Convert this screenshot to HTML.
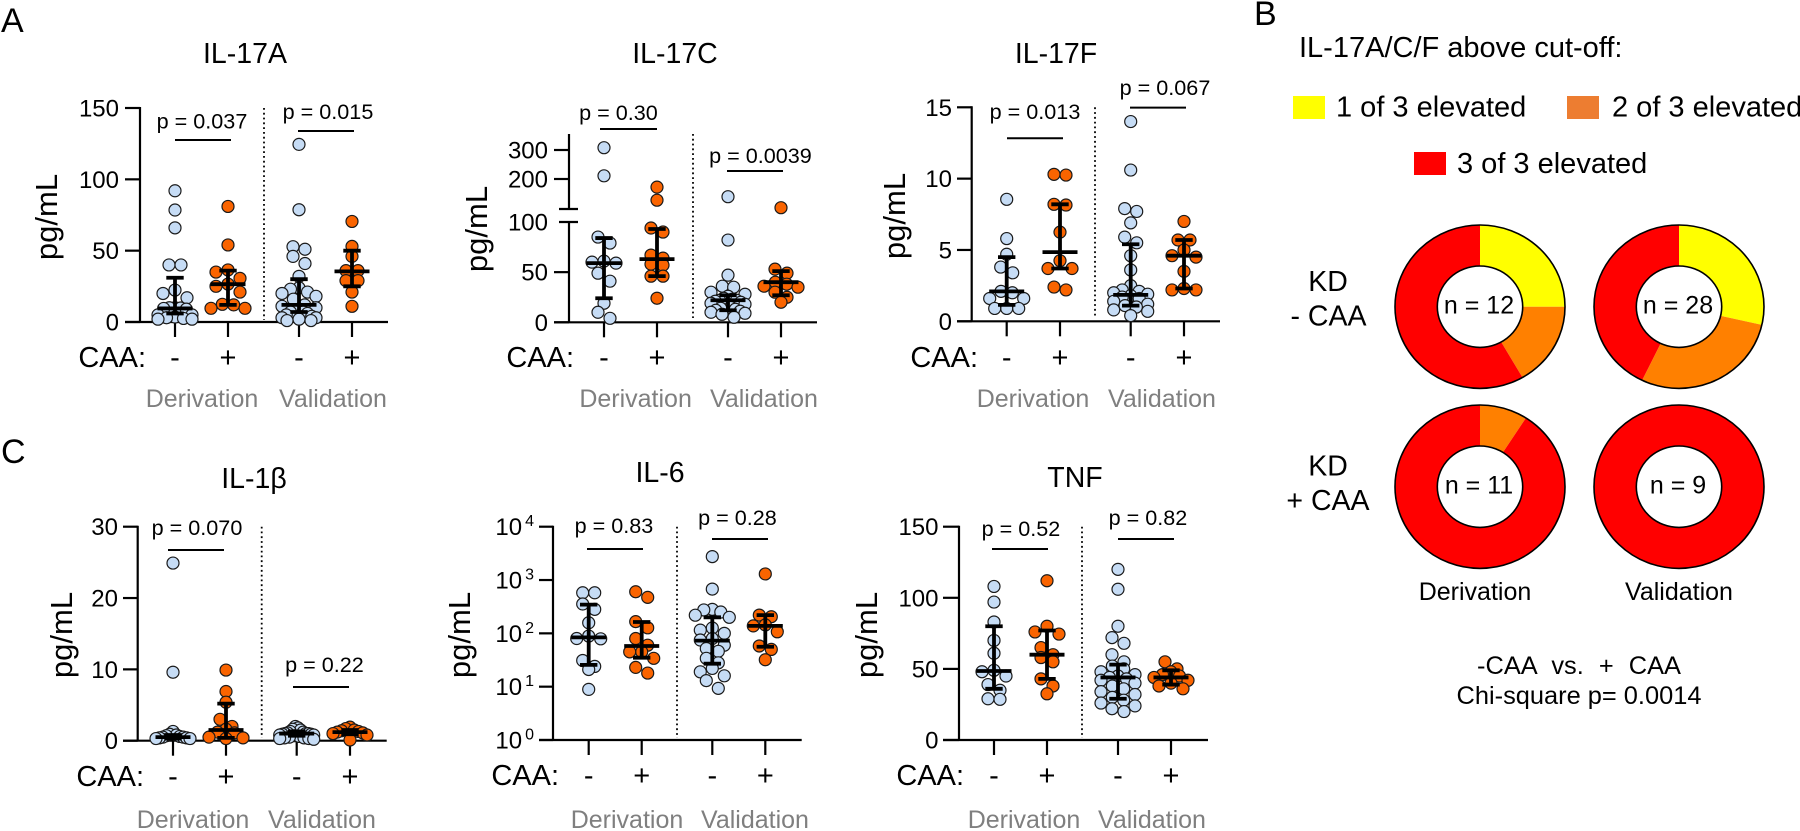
<!DOCTYPE html>
<html lang="en">
<head>
<meta charset="utf-8">
<title>Cytokine levels by CAA status</title>
<style>
html,body{margin:0;padding:0;background:#fff;width:1800px;height:831px;overflow:hidden}
svg{display:block}
text{font-family:"Liberation Sans",Arial,sans-serif;fill:#000}
</style>
</head>
<body>
<svg id="fig" xmlns="http://www.w3.org/2000/svg" width="1800" height="831" viewBox="0 0 1800 831">
  <rect width="1800" height="831" fill="#fff"/>
  <text x="1" y="32" font-size="34">A</text>
  <text x="1254" y="25" font-size="34">B</text>
  <text x="1" y="463" font-size="34">C</text>

  <text x="1299" y="57" font-size="29">IL-17A/C/F above cut-off:</text>
  <rect x="1293" y="96" width="32" height="23" fill="#ffff00"/>
  <text x="1336" y="116.5" font-size="29">1 of 3 elevated</text>
  <rect x="1567" y="96" width="32" height="23" fill="#ed7d31"/>
  <text x="1612" y="116.5" font-size="29">2 of 3 elevated</text>
  <rect x="1414" y="152" width="32" height="23" fill="#ff0000"/>
  <text x="1457" y="173" font-size="29">3 of 3 elevated</text>

  <text x="1328" y="291" font-size="28.5" text-anchor="middle">KD</text>
  <text x="1328.5" y="325.5" font-size="28.5" text-anchor="middle">- CAA</text>
  <text x="1328" y="475.5" font-size="28.5" text-anchor="middle">KD</text>
  <text x="1328" y="510" font-size="28.5" text-anchor="middle">+ CAA</text>
  <text x="1475" y="600" font-size="25" text-anchor="middle">Derivation</text>
  <text x="1679" y="600" font-size="25" text-anchor="middle">Validation</text>
  <text x="1579" y="674" font-size="25.4" word-spacing="8" text-anchor="middle">-CAA vs. + CAA</text>
  <text x="1579" y="704" font-size="25.4" text-anchor="middle">Chi-square p= 0.0014</text>
</svg>
<script>
/* ---------- IL-17A data ---------- */
const il17aTicks = [0, 50, 100, 150];
const il17aDerivNeg = [92, 78.5, 66, 40, 40, 22.4, 20, 17, 10, 10, 9.8, 9.5, 9, 5, 5, 3.5, 3, 2.5, 2, 2];
const il17aDerivPos = [81, 54, 36.5, 35, 30.6, 26.6, 25, 21, 12.4, 12, 9.6, 9.6];
const il17aValidNeg = [124.5, 78.7, 52.8, 51, 46, 41, 32, 24, 23, 21, 20, 18, 16, 12, 11, 10, 9, 8, 7, 7, 6, 5, 4, 3, 3, 2, 1, 1];
const il17aValidPos = [70.5, 53, 46, 36, 36, 29, 29, 21, 11];
const il17aMedians = [9.5, 26.5, 12, 35.5];
const il17aLower = [6, 12, 7, 25];
const il17aUpper = [31, 36, 30, 50];
const il17aPValues = ["p = 0.037", "p = 0.015"];

/* ---------- IL-17C data ---------- */
const il17cTicks = [0, 50, 100, 200, 300];
const il17cDerivNeg = [308, 211, 85, 79, 61, 60, 59, 49, 41, 19, 10, 4];
const il17cDerivPos = [172, 127, 94, 90, 67, 64, 58, 57, 46, 46, 24];
const il17cValidNeg = [139, 82, 47, 36, 35, 30, 28, 26, 24, 23, 22, 22, 21, 20, 19, 18, 17, 15, 14, 13, 12, 11, 10, 9, 8, 5];
const il17cValidPos = [101, 53, 49, 40, 38, 36, 35, 30, 25, 20];
const il17cMedians = [59, 63, 22, 40];
const il17cLower = [24, 46, 12, 27];
const il17cUpper = [84, 93, 27, 51];
const il17cPValues = ["p = 0.30", "p = 0.0039"];

/* ---------- IL-17F data ---------- */
const il17fTicks = [0, 5, 10, 15];
const il17fDerivNeg = [8.55, 5.8, 4.7, 3.8, 3.4, 2.1, 2.0, 1.6, 1.6, 0.9, 0.9, 0.9];
const il17fDerivPos = [10.3, 10.25, 8.2, 8.15, 6.25, 4.25, 3.7, 3.7, 2.4, 2.2];
const il17fValidNeg = [14, 10.6, 7.9, 7.7, 6.9, 5.9, 5.5, 4.6, 3.6, 2.5, 2.2, 2.1, 2.0, 1.9, 1.8, 1.7, 1.6, 1.4, 1.2, 1.1, 1.0, 0.8, 0.7, 0.4];
const il17fValidPos = [7, 5.7, 5.7, 5.0, 4.6, 4.5, 3.5, 2.3, 2.2, 2.2];
const il17fMedians = [2.1, 4.85, 1.85, 4.6];
const il17fLower = [1.15, 3.7, 1.1, 2.3];
const il17fUpper = [4.5, 8.2, 5.4, 5.7];
const il17fPValues = ["p = 0.013", "p = 0.067"];

/* ---------- IL-1 beta data ---------- */
const il1bTicks = [0, 10, 20, 30];
const il1bDerivNeg = [24.9, 9.6, 1.3, 0.9, 0.8, 0.7, 0.6, 0.5, 0.5, 0.4, 0.4, 0.3, 0.3];
const il1bDerivPos = [9.9, 6.9, 5.4, 3, 2, 1.6, 1.2, 1.1, 0.5, 0.4, 0.3];
const il1bValidNeg = [2, 1.8, 1.6, 1.5, 1.3, 1.2, 1.1, 1, 1, 1, 0.9, 0.9, 0.8, 0.8, 0.7, 0.6, 0.5, 0.4, 0.4, 0.3, 0.3, 0.2];
const il1bValidPos = [1.9, 1.7, 1.5, 1.4, 1.3, 1.2, 1.1, 1, 0.8, 0.1];
const il1bMedians = [0.5, 1.5, 1, 1.2];
const il1bLower = [0.3, 0.4, 0.7, 0.9];
const il1bUpper = [0.8, 5.2, 1.3, 1.5];
const il1bPValues = ["p = 0.070", "p = 0.22"];

/* ---------- IL-6 data ---------- */
const il6Ticks = [1, 10, 100, 1000, 10000];
const il6TickExponents = ["0", "1", "2", "3", "4"];
const il6DerivNeg = [577, 577, 355, 282, 158, 89, 80, 79, 31, 24, 21, 8.9];
const il6DerivPos = [603, 473, 166, 127, 80, 60, 45, 45, 34, 23, 18];
const il6ValidNeg = [2750, 676, 282, 275, 251, 219, 200, 126, 115, 100, 80, 75, 60, 52, 46, 34, 28, 22, 19, 16, 13, 9.3];
const il6ValidPos = [1300, 220, 205, 144, 138, 107, 58, 50, 32];
const il6Medians = [84, 58, 73, 138];
const il6Lower = [25.6, 35, 27, 56];
const il6Upper = [346, 163, 200, 220];
const il6PValues = ["p = 0.83", "p = 0.28"];

/* ---------- TNF data ---------- */
const tnfTicks = [0, 50, 100, 150];
const tnfDerivNeg = [108, 97, 83, 70, 61, 49, 48, 45, 39, 35, 29, 28.6];
const tnfDerivPos = [112, 80, 76, 74.5, 65, 60, 58, 55, 43, 38, 32.5];
const tnfValidNeg = [120, 106, 80, 72, 68, 60, 55, 52, 50, 48, 46, 45, 44, 43, 42, 40, 38, 36, 34, 32, 30, 28, 26, 24, 22, 20];
const tnfValidPos = [55, 50, 48, 46, 45, 44, 42, 40, 38, 36];
const tnfMedians = [48.5, 60, 44, 44];
const tnfLower = [36, 43, 29, 39];
const tnfUpper = [80, 77, 53, 49];
const tnfPValues = ["p = 0.52", "p = 0.82"];

/* ---------- donut data: counts of 1, 2, 3 of 3 elevated ---------- */
const donutCategories = ["one-elevated", "two-elevated", "three-elevated"];
const derivNegCounts = [3, 2, 7];
const validNegCounts = [8, 8, 12];
const derivPosCounts = [0, 1, 10];
const validPosCounts = [0, 0, 9];
const donutLabels = ["n = 12", "n = 28", "n = 11", "n = 9"];

/* ---------- drawing ---------- */
const NS = "http://www.w3.org/2000/svg";
const fig = document.getElementById("fig");

function add(parent, tag, attrs, name, txt) {
  const el = document.createElementNS(NS, tag);
  for (const k in attrs) el.setAttribute(k, attrs[k]);
  
  
  if (txt !== undefined) el.textContent = txt;
  parent.appendChild(el);
  return el;
}
function line(p, x1, y1, x2, y2, w, name, extra) {
  return add(p, "line", Object.assign({x1, y1, x2, y2, stroke: "#000", "stroke-width": w}, extra || {}), name);
}
function linearScale(d0, d1, r0, r1) {
  return v => r0 + (v - d0) * (r1 - r0) / (d1 - d0);
}
function logScale(d0, d1, r0, r1) {
  const a = Math.log10(d0), b = Math.log10(d1);
  return v => r0 + (Math.log10(v) - a) * (r1 - r0) / (b - a);
}
function brokenScale(lowMax, r0, rLow, upAnchor, upAnchor2, rUp, rUp2) {
  const low = linearScale(0, lowMax, r0, rLow);
  const up = linearScale(upAnchor, upAnchor2, rUp, rUp2);
  return v => v <= lowMax ? low(v) : up(v);
}
/* Column-scatter layout: values close in height share a row and spread symmetrically. */
function swarm(values, y) {
  const items = values.map(v => ({v, y: y(v), dx: 0})).sort((a, b) => a.y - b.y);
  const binPx = 9;
  let i = 0;
  while (i < items.length) {
    let j = i;
    while (j + 1 < items.length && items[j + 1].y - items[i].y <= binPx) j++;
    const n = j - i + 1;
    const step = n > 1 ? Math.min(12, 34 / (n - 1)) : 0;
    for (let k = 0; k < n; k++) {
      const rank = Math.ceil(k / 2);
      const sign = k % 2 ? -1 : 1;
      if (n % 2) items[i + k].dx = sign * rank * step;
      else {
        const r = Math.floor(k / 2);
        items[i + k].dx = (k % 2 ? 1 : -1) * (r + 0.5) * step;
      }
    }
    i = j + 1;
  }
  return items;
}

const panels = [
  {key: "il17a", title: "IL-17A", titleX: 245, titleY: 63, axisX: 140, tickLeft: 125, xEnd: 388, y0: 322, yTop: 108,
   xs: [175, 228, 299, 352], dividerX: 264, dividerEnd: 320, tickRight: 119,
   scale: linearScale(0, 150, 322, 108), ticks: il17aTicks,
   series: [il17aDerivNeg, il17aDerivPos, il17aValidNeg, il17aValidPos],
   med: il17aMedians, lo: il17aLower, hi: il17aUpper, ps: il17aPValues,
   pText: [[202, 128.5], [328, 119]], pLine: [[175, 231, 140], [298, 354, 131]],
   ylabX: 57, ylabY: 217, caaRight: 146, caaY: 367, catY: 407, derX: 202, valX: 333},
  {key: "il17c", title: "IL-17C", titleX: 675, titleY: 63, axisX: 569, tickLeft: 554, xEnd: 817, y0: 322.3, yTop: 134,
   xs: [604, 657, 728, 781], dividerX: 693, dividerEnd: 318, tickRight: 548,
   scale: brokenScale(100, 322.3, 222, 200, 300, 179, 150), ticks: il17cTicks,
   series: [il17cDerivNeg, il17cDerivPos, il17cValidNeg, il17cValidPos],
   med: il17cMedians, lo: il17cLower, hi: il17cUpper, ps: il17cPValues,
   pText: [[618.5, 120], [760.5, 163]], pLine: [[600, 657, 129], [727, 783, 171]],
   ylabX: 487, ylabY: 229, caaRight: 574, caaY: 367, catY: 407, derX: 635.6, valX: 764, broken: [209, 222]},
  {key: "il17f", title: "IL-17F", titleX: 1056, titleY: 63, axisX: 971.7, tickLeft: 957, xEnd: 1220, y0: 321.3, yTop: 107.3,
   xs: [1006.7, 1060, 1130.7, 1184], dividerX: 1095, dividerEnd: 318, tickRight: 952,
   scale: linearScale(0, 15, 321.3, 107.3), ticks: il17fTicks,
   series: [il17fDerivNeg, il17fDerivPos, il17fValidNeg, il17fValidPos],
   med: il17fMedians, lo: il17fLower, hi: il17fUpper, ps: il17fPValues,
   pText: [[1035, 119], [1165, 95]], pLine: [[1007, 1063, 138.3], [1130, 1186, 107.6]],
   ylabX: 905, ylabY: 216, caaRight: 978, caaY: 367, catY: 407, derX: 1033, valX: 1162},
  {key: "il1b", title: "IL-1β", titleX: 254, titleY: 488, axisX: 137.7, tickLeft: 123, xEnd: 386.7, y0: 740.7, yTop: 526.7,
   xs: [173, 226, 296.7, 350], dividerX: 261.7, dividerEnd: 738, tickRight: 118,
   scale: linearScale(0, 30, 740.7, 526.7), ticks: il1bTicks,
   series: [il1bDerivNeg, il1bDerivPos, il1bValidNeg, il1bValidPos],
   med: il1bMedians, lo: il1bLower, hi: il1bUpper, ps: il1bPValues,
   pText: [[197, 535], [324.5, 672]], pLine: [[168, 224, 550], [293, 349, 687]],
   ylabX: 72, ylabY: 635, caaRight: 144, caaY: 786, catY: 828, derX: 193, valX: 322},
  {key: "il6", title: "IL-6", titleX: 660, titleY: 482, axisX: 553, tickLeft: 539, xEnd: 801.7, y0: 740, yTop: 526.7,
   xs: [588.7, 641.7, 712.3, 765.3], dividerX: 677, dividerEnd: 738, tickRight: 534,
   scale: logScale(1, 10000, 740, 526.7), ticks: il6Ticks, exps: il6TickExponents,
   series: [il6DerivNeg, il6DerivPos, il6ValidNeg, il6ValidPos],
   med: il6Medians, lo: il6Lower, hi: il6Upper, ps: il6PValues,
   pText: [[614, 533], [737.5, 525]], pLine: [[587, 643, 549], [712, 768, 539]],
   ylabX: 470, ylabY: 635, caaRight: 559, caaY: 785, catY: 828, derX: 627, valX: 755},
  {key: "tnf", title: "TNF", titleX: 1075, titleY: 487, axisX: 959, tickLeft: 943, xEnd: 1208, y0: 740, yTop: 526.7,
   xs: [994, 1047, 1118, 1171], dividerX: 1082, dividerEnd: 738, tickRight: 938.5,
   scale: linearScale(0, 150, 740, 526.7), ticks: tnfTicks,
   series: [tnfDerivNeg, tnfDerivPos, tnfValidNeg, tnfValidPos],
   med: tnfMedians, lo: tnfLower, hi: tnfUpper, ps: tnfPValues,
   pText: [[1021, 536], [1148, 525]], pLine: [[992, 1048, 549], [1118, 1174, 539]],
   ylabX: 877, ylabY: 635, caaRight: 964, caaY: 785, catY: 828, derX: 1024, valX: 1152}
];

const groupNames = ["derivation-minus-caa", "derivation-plus-caa", "validation-minus-caa", "validation-plus-caa"];
const groupSigns = ["-", "+", "-", "+"];

panels.forEach(p => {
  const g = add(fig, "g", {}, p.key + "-chart");
  add(g, "text", {x: p.titleX, y: p.titleY, "font-size": 28.5, "text-anchor": "middle"}, p.key + "-title", p.title);
  add(g, "text", {transform: `translate(${p.ylabX},${p.ylabY}) rotate(-90)`, "font-size": 31, "text-anchor": "middle"}, p.key + "-y-axis-title", "pg/mL");

  /* axes */
  if (p.broken) {
    line(g, p.axisX, p.yTop, p.axisX, p.broken[0], 2.2, "y-axis-upper");
    line(g, p.axisX, p.broken[1], p.axisX, p.y0, 2.2, "y-axis-lower");
    p.broken.forEach(b => {
      line(g, p.axisX - 10, b, p.axisX + 9, b, 2.2, "axis-break-mark");
    });
  } else {
    line(g, p.axisX, p.yTop - 1, p.axisX, p.y0, 2.2, "y-axis");
  }
  line(g, p.tickLeft, p.y0, p.xEnd, p.y0, 2.2, "x-axis");

  p.ticks.forEach((t, i) => {
    const y = p.scale(t);
    if (!(p.broken && t === 100)) line(g, p.tickLeft, y, p.axisX, y, 2.2, "y-tick");
    if (p.exps) {
      const label = add(g, "text", {x: p.tickRight, y: y + 8.5, "font-size": 24, "text-anchor": "end"}, "y-tick-label", "10");
      add(label, "tspan", {dx: 3, dy: -9, "font-size": 16}, "y-tick-exponent", p.exps[i]);
    } else {
      add(g, "text", {x: p.tickRight, y: y + 8.5, "font-size": 24, "text-anchor": "end"}, "y-tick-label", String(t));
    }
  });

  /* divider */
  line(g, p.dividerX, p.yTop, p.dividerX, p.dividerEnd, 1.8, "cohort-divider", {"stroke-dasharray": "1.8 3"});

  /* groups */
  p.xs.forEach((x, i) => {
    line(g, x, p.y0, x, p.y0 + 15, 2.2, "x-tick");
    add(g, "text", {x, y: p.caaY, "font-size": 29, "text-anchor": "middle"}, "caa-sign-label", groupSigns[i]);
    const fill = i % 2 ? "#fa6400" : "#c6dcf5";
    swarm(p.series[i], p.scale).forEach(pt => {
      add(g, "circle", {cx: x + pt.dx, cy: pt.y, r: 6, fill, stroke: "#1a1a1a", "stroke-width": 1.2}, p.key + "-point-" + groupNames[i]);
    });
  });
  p.xs.forEach((x, i) => {
    const m = p.scale(p.med[i]), lo = p.scale(p.lo[i]), hi = p.scale(p.hi[i]);
    line(g, x, lo, x, hi, 3.8, "iqr-bar");
    line(g, x - 8.7, lo, x + 8.7, lo, 3.8, "iqr-lower-cap");
    line(g, x - 8.7, hi, x + 8.7, hi, 3.8, "iqr-upper-cap");
    line(g, x - 17.5, m, x + 17.5, m, 3.8, "median-line");
  });

  add(g, "text", {x: p.caaRight, y: p.caaY, "font-size": 29, "text-anchor": "end"}, "caa-row-label", "CAA:");
  add(g, "text", {x: p.derX, y: p.catY, "font-size": 25, "text-anchor": "middle", style: "fill:#7f7f7f"}, "derivation-label", "Derivation");
  add(g, "text", {x: p.valX, y: p.catY, "font-size": 25, "text-anchor": "middle", style: "fill:#7f7f7f"}, "validation-label", "Validation");

  p.ps.forEach((txt, i) => {
    add(g, "text", {x: p.pText[i][0], y: p.pText[i][1], "font-size": 21.6, "text-anchor": "middle"}, "p-value-label", txt);
    line(g, p.pLine[i][0], p.pLine[i][2], p.pLine[i][1], p.pLine[i][2], 2, "p-value-bracket");
  });
});

/* ---------- donuts ---------- */
const donutColors = ["#ffff00", "#ff8000", "#ff0000"];
const donuts = [
  {name: "donut-derivation-minus-caa", cx: 1480, cy: 306.7, counts: derivNegCounts, label: donutLabels[0]},
  {name: "donut-validation-minus-caa", cx: 1679, cy: 306.7, counts: validNegCounts, label: donutLabels[1]},
  {name: "donut-derivation-plus-caa", cx: 1480, cy: 486.7, counts: derivPosCounts, label: donutLabels[2]},
  {name: "donut-validation-plus-caa", cx: 1679, cy: 486.7, counts: validPosCounts, label: donutLabels[3]}
];
donuts.forEach(d => {
  const rx = 85, ry = 81.7, irx = 42.7, iry = 40.7;
  const g = add(fig, "g", {}, d.name);
  const total = d.counts.reduce((a, b) => a + b, 0);
  let start = 0;
  d.counts.forEach((c, i) => {
    if (!c) return;
    const a0 = start / total * 2 * Math.PI, a1 = (start + c) / total * 2 * Math.PI;
    start += c;
    if (c === total) {
      add(g, "ellipse", {cx: d.cx, cy: d.cy, rx, ry, fill: donutColors[i]}, "slice-" + donutCategories[i]);
      return;
    }
    const x0 = d.cx + rx * Math.sin(a0), y0 = d.cy - ry * Math.cos(a0);
    const x1 = d.cx + rx * Math.sin(a1), y1 = d.cy - ry * Math.cos(a1);
    const large = a1 - a0 > Math.PI ? 1 : 0;
    add(g, "path", {d: `M${d.cx} ${d.cy}L${x0} ${y0}A${rx} ${ry} 0 ${large} 1 ${x1} ${y1}Z`, fill: donutColors[i]}, "slice-" + donutCategories[i]);
  });
  add(g, "ellipse", {cx: d.cx, cy: d.cy, rx, ry, fill: "none", stroke: "#000", "stroke-width": 1.6}, "donut-outline");
  add(g, "ellipse", {cx: d.cx, cy: d.cy, rx: irx, ry: iry, fill: "#fff", stroke: "#000", "stroke-width": 1.6}, "donut-hole");
  add(g, "text", {x: d.cx - 1, y: d.cy + 7, "font-size": 25, "text-anchor": "middle"}, "donut-n-label", d.label);
});
</script>
</body>
</html>
